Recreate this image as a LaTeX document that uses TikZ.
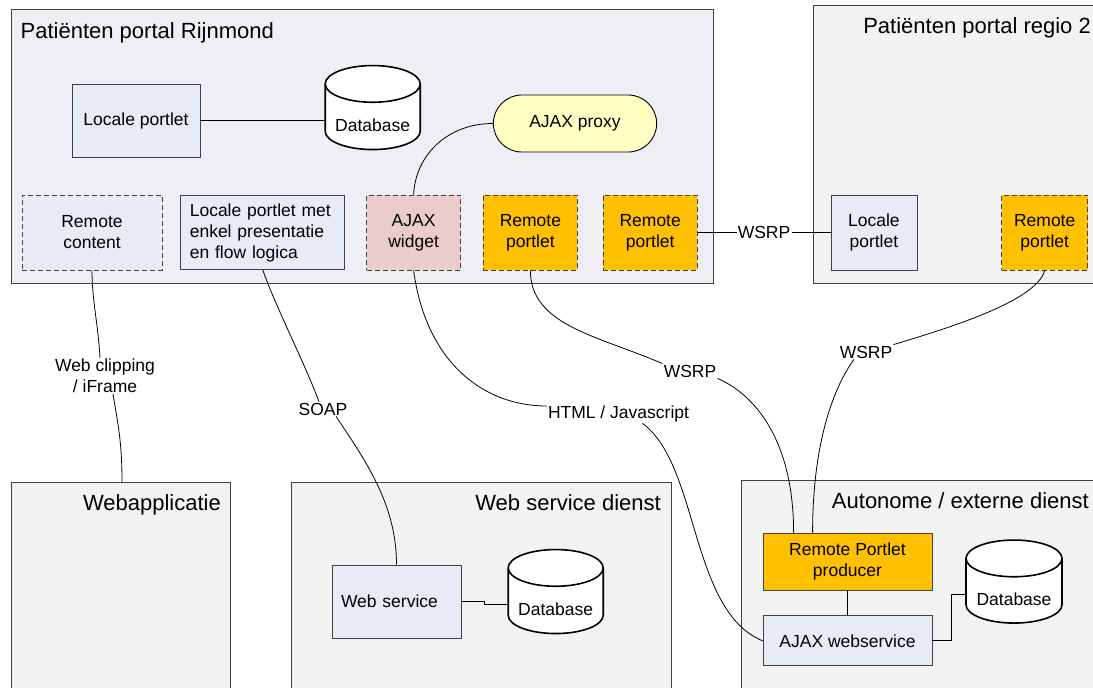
\documentclass[tikz,border=0pt]{standalone}
\usepackage{fontspec}
\setmainfont{Liberation Sans}
\usetikzlibrary{positioning}
\usetikzlibrary{shapes.geometric}
\usetikzlibrary{shapes.misc}
\definecolor{portalbg}{RGB}{240,238,245}
\definecolor{dienstbg}{RGB}{242,242,242}
\definecolor{lokaalblauw}{RGB}{230,235,246}
\definecolor{widgetroze}{RGB}{234,204,204}
\definecolor{remoteoranje}{RGB}{255,192,0}
\definecolor{proxygeel}{RGB}{255,255,196}
\definecolor{rand}{RGB}{64,64,64}
\newcommand{\Tdb}{Database}
\newcommand{\Tportlet}{portlet}
\newcommand{\Tremote}{Remote\\\Tportlet}
\newcommand{\Tlocale}{Locale\\\Tportlet}
\tikzstyle{omgeving} = [rectangle, draw=rand, line width=0.9pt, anchor=north west, inner sep=0pt]
\tikzstyle{titel} = [inner sep=0pt, font=\fontsize{22}{26}\selectfont]
\tikzstyle{blok} = [rectangle, draw=rand, line width=0.8pt, align=center, inner sep=2pt, font=\fontsize{17.5}{21}\selectfont]
\tikzstyle{lokaal} = [blok, fill=lokaalblauw]
\tikzstyle{remote} = [blok, fill=remoteoranje, dash pattern=on 5pt off 3pt]
\tikzstyle{db} = [cylinder, shape border rotate=90, shape aspect=0.45, draw=black, line width=1.6pt, fill=white, minimum width=95pt, minimum height=84pt, text height=22pt, text depth=0pt, font=\fontsize{17.5}{21}\selectfont]
\tikzstyle{proto} = [inner sep=1pt, align=center, font=\fontsize{17.5}{21}\selectfont]

\begin{document}
\begin{tikzpicture}[x=1pt, y=-1pt, link/.style={draw=black, line width=0.8pt}]
\useasboundingbox (0,0) rectangle (1093,688);
\clip (0,0) rectangle (1093,688);

% Omgevingen
\node[omgeving, fill=portalbg, minimum width=702pt, minimum height=274pt] (rijnmond) at (11,9) {};
\node[omgeving, fill=dienstbg, minimum width=290pt, minimum height=278pt] (regio)    at (813,5) {};
\node[omgeving, fill=dienstbg, minimum width=219pt, minimum height=220pt] (webapp)   at (11,482) {};
\node[omgeving, fill=dienstbg, minimum width=380pt, minimum height=220pt] (wsdienst) at (291,482) {};
\node[omgeving, fill=dienstbg, minimum width=360pt, minimum height=222pt] (autonoom) at (741,480) {};

\node[titel, anchor=base west] (trijnmond) at (20.5,38)  {Patiënten portal Rijnmond};
\node[titel, anchor=base east] (tregio)    at (1091,33)  {Patiënten portal regio 2};
\node[titel, anchor=base east] (twebapp)   at (221,510)  {Webapplicatie};
\node[titel, anchor=base east] (twsdienst) at (661,510)  {Web service dienst};
\node[titel, anchor=base east] (tautonoom) at (1089,508) {Autonome / externe dienst};

% Portal Rijnmond
\node[lokaal, minimum width=128pt, minimum height=73pt]          (lport)  at (136,120.5) {Locale portlet};
\node[db, right=124pt of lport]                                  (dbr)    {\Tdb};
\node[rounded rectangle, draw=black, line width=0.9pt, fill=proxygeel, minimum width=170pt,
      minimum height=57pt, font=\fontsize{17.5}{21}\selectfont]  (proxy)  at (575,123.5) {AJAX proxy};

\node[lokaal, dash pattern=on 5pt off 3pt, minimum width=140pt, minimum height=75pt] (rcontent) at (92,232.5) {Remote\\content};
\node[lokaal, right=18pt of rcontent, text width=146pt, align=left, inner xsep=9pt, minimum height=74pt] (lpmet) {Locale portlet met\\enkel presentatie\\en flow logica};
\node[blok, fill=widgetroze, dash pattern=on 5pt off 3pt, right=21pt of lpmet, minimum width=94pt, minimum height=75pt] (widget) {AJAX\\widget};
\node[remote, right=22pt of widget, minimum width=94pt, minimum height=75pt] (rpa) {\Tremote};
\node[remote, right=25pt of rpa,    minimum width=94pt, minimum height=75pt] (rpb) {\Tremote};

% Portal regio 2
\node[proto, right=39pt of rpb]                                            (wsrpc)  {WSRP};
\node[lokaal, right=39pt of wsrpc, minimum width=86pt, minimum height=75pt] (lportb) {\Tlocale};
\node[remote, right=84pt of lportb, minimum width=86pt, minimum height=75pt] (rpc)   {\Tremote};

% Diensten
\node[lokaal, text width=111pt, align=left, inner xsep=9pt, minimum height=73pt] (ws) at (396.5,601.5) {Web service};
\node[db, right=46pt of ws, yshift=-3pt]                                         (dbw) {\Tdb};

\node[blok, fill=remoteoranje, minimum width=169pt, minimum height=57pt] (producer) at (847.5,561.5) {Remote Portlet\\producer};
\node[lokaal, below=25pt of producer, minimum width=169pt, minimum height=50pt] (ajaxws) {AJAX webservice};
\node[db, minimum width=96pt, minimum height=83pt]                     (dba) at (1014,594.5) {\Tdb};

% Protocollen
\node[proto] (clip)  at (105,376)   {Web clipping\\/ iFrame};
\node[proto] (soap)  at (323,409)   {SOAP};
\node[proto] (html)  at (618.5,414) {HTML / Javascript};
\node[proto] (wsrpa) at (690,371)   {WSRP};
\node[proto] (wsrpb) at (866,352)   {WSRP};

% Edges
\draw[link] (lport) -- (dbr);
\draw[link] (widget.north) .. controls +(2,-40) and +(-45,0) .. (proxy.west);
\draw[link] (rpb.east) -- (wsrpc.west);
\draw[link] (wsrpc.east) -- (lportb.west);

\draw[link] (rcontent.south) .. controls +(0,30) and +(-2,-35) .. ([xshift=-5pt]clip.north);
\draw[link] ([xshift=8pt]clip.south) .. controls +(5,30) and +(0,-40) .. ([xshift=111pt]webapp.north west);

\draw[link] (lpmet.south) .. controls +(12,35) and +(-15,-40) .. ([xshift=-4pt]soap.north);
\draw[link] ([xshift=13pt]soap.south) .. controls +(30,45) and +(0,-60) .. (ws.north);

\draw[link] (widget.south) .. controls +(12,90) and +(-65,0) .. ([yshift=8pt]html.west);
\draw[link] ([xshift=24pt]html.south) .. controls +(57,42) and +(-73,-30) .. (ajaxws.west);

\draw[link] (rpa.south) .. controls +(0,55) and +(-65,-28) .. (wsrpa.north west);
\draw[link] (wsrpa.south east) .. controls +(37,16) and +(0,-93) .. ([xshift=31pt]producer.north west);
\draw[link] (rpc.south) .. controls +(-8,30) and +(60,-18) .. (wsrpb.north east);
\draw[link] ([xshift=-12pt]wsrpb.south) .. controls +(-19,26) and +(0,-93) .. ([xshift=50pt]producer.north west);

\draw[link] (producer) -- (ajaxws);
\draw[link] (ajaxws.east) -- ++(19,0) |- (dba.west);
\draw[link] (ws.east) -- ++(23,0) |- (dbw.west);
\end{tikzpicture}
\end{document}
